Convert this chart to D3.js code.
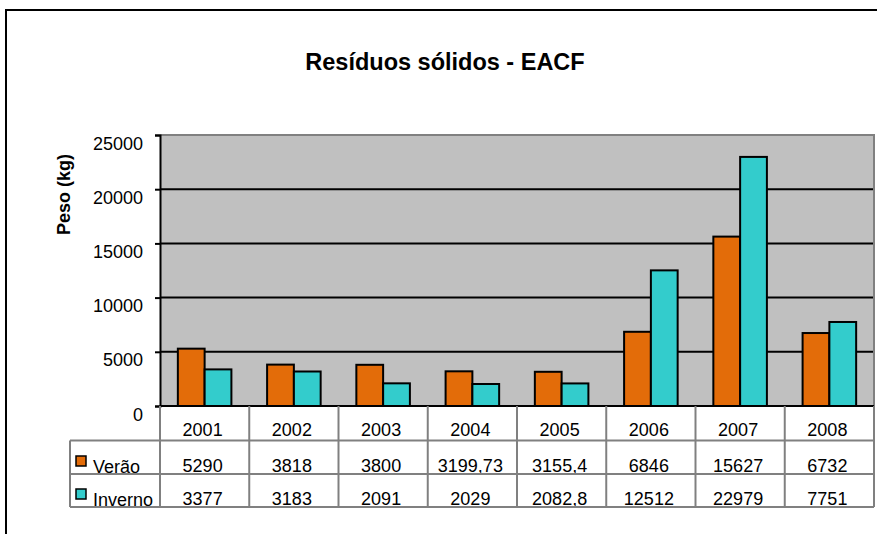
<!DOCTYPE html>
<html>
<head>
<meta charset="utf-8">
<script src="https://cdn.jsdelivr.net/npm/d3@7"></script>
<style>
  body { margin: 0; background: #fff; }
  text { font-family: "Liberation Sans", Arial, sans-serif; fill: #000; }
</style>
</head>
<body>
<div id="chart"></div>
<script>
var years = ["2001", "2002", "2003", "2004", "2005", "2006", "2007", "2008"];
var verao = [5290, 3818, 3800, 3199.73, 3155.4, 6846, 15627, 6732];
var inverno = [3377, 3183, 2091, 2029, 2082.8, 12512, 22979, 7751];
var seriesNames = ["Verão", "Inverno"];
var seriesColors = ["#E36C09", "#33CCCC"];
var yTicks = [0, 5000, 10000, 15000, 20000, 25000];

var width = 877, height = 534;
var plot = {left: 160, right: 874, top: 135, bottom: 406};
var rows = [406, 440.5, 474, 507];

var svg = d3.select("#chart").append("svg")
  .attr("width", width)
  .attr("height", height);

// outer chart border (runs past the right and bottom edges)
svg.append("rect")
  .attr("x", 6).attr("y", 10)
  .attr("width", 900).attr("height", 600)
  .attr("fill", "#fff")
  .attr("stroke", "#000")
  .attr("stroke-width", 2);

svg.append("text")
  .attr("x", 445).attr("y", 70)
  .attr("text-anchor", "middle")
  .style("font-size", "23.5px")
  .style("font-weight", "bold")
  .text("Resíduos sólidos - EACF");

var x = d3.scaleBand().domain(years).range([plot.left, plot.right]);
var y = d3.scaleLinear().domain([0, 25000]).range([plot.bottom, plot.top]);
var barW = x.bandwidth() * 0.3;

svg.append("rect")
  .attr("x", plot.left).attr("y", plot.top)
  .attr("width", plot.right - plot.left).attr("height", plot.bottom - plot.top)
  .attr("fill", "#C0C0C0");

// gridlines
svg.append("g").selectAll("line")
  .data(yTicks.slice(1, -1))
  .enter().append("line")
  .attr("x1", plot.left).attr("x2", plot.right)
  .attr("y1", function(d) { return y(d); })
  .attr("y2", function(d) { return y(d); })
  .attr("stroke", "#000")
  .attr("stroke-width", 2);

// plot frame top/right
svg.append("path")
  .attr("d", "M" + plot.left + "," + plot.top + "H" + plot.right + "V" + plot.bottom)
  .attr("fill", "none")
  .attr("stroke", "#808080")
  .attr("stroke-width", 2);

var data = [verao, inverno];
data.forEach(function(vals, s) {
  svg.append("g").selectAll("rect")
    .data(vals)
    .enter().append("rect")
    .attr("x", function(d, i) { return x(years[i]) + x.bandwidth() / 2 - barW + s * barW; })
    .attr("y", function(d) { return y(d); })
    .attr("width", barW)
    .attr("height", function(d) { return y(0) - y(d); })
    .attr("fill", seriesColors[s])
    .attr("stroke", "#000")
    .attr("stroke-width", 2);
});

// y axis
var yAxis = svg.append("g")
  .attr("transform", "translate(" + plot.left + ",0)")
  .call(d3.axisLeft(y).tickValues(yTicks).tickSize(5).tickPadding(12).tickFormat(d3.format("d")));
yAxis.select(".domain").attr("stroke", "#000").attr("stroke-width", 2);
yAxis.selectAll(".tick line").attr("stroke", "#000").attr("stroke-width", 2);
yAxis.selectAll(".tick text")
  .attr("dy", "14px")
  .style("font-size", "18px")
  .style("font-family", "'Liberation Sans', Arial, sans-serif");

svg.append("line")
  .attr("x1", plot.left).attr("x2", plot.right)
  .attr("y1", plot.bottom).attr("y2", plot.bottom)
  .attr("stroke", "#000").attr("stroke-width", 2);

svg.append("text")
  .attr("transform", "translate(70," + 194.5 + ") rotate(-90)")
  .attr("text-anchor", "middle")
  .style("font-size", "18px")
  .style("font-weight", "bold")
  .text("Peso (kg)");

// data table
var fmt = function(v) { return String(v).replace(".", ","); };
svg.append("defs").append("clipPath").attr("id", "tclip")
  .append("rect").attr("x", 0).attr("y", plot.bottom).attr("width", width).attr("height", rows[3] - plot.bottom);

var table = svg.append("g").attr("clip-path", "url(#tclip)");

table.selectAll("text.year")
  .data(years)
  .enter().append("text")
  .attr("class", "year")
  .attr("x", function(d) { return x(d) + x.bandwidth() / 2 - 2; })
  .attr("y", 436)
  .attr("text-anchor", "middle")
  .style("font-size", "18px")
  .text(function(d) { return d; });

var rowBase = [472, 505];
data.forEach(function(vals, s) {
  table.append("g").selectAll("text")
    .data(vals)
    .enter().append("text")
    .attr("x", function(d, i) { return x(years[i]) + x.bandwidth() / 2 - 2; })
    .attr("y", rowBase[s])
    .attr("text-anchor", "middle")
    .style("font-size", "18px")
    .text(function(d) { return fmt(d); });

  table.append("rect")
    .attr("x", 76).attr("y", rowBase[s] - 16)
    .attr("width", 10).attr("height", 10)
    .attr("fill", seriesColors[s])
    .attr("stroke", "#000")
    .attr("stroke-width", 1.5);

  table.append("text")
    .attr("x", 93).attr("y", rowBase[s] + 1)
    .style("font-size", "18px")
    .text(seriesNames[s]);
});

// table grid
var grid = svg.append("g").attr("stroke", "#808080").attr("stroke-width", 2);
[rows[1], rows[2], rows[3]].forEach(function(r) {
  grid.append("line").attr("x1", 70).attr("x2", plot.right).attr("y1", r).attr("y2", r);
});
grid.append("line").attr("x1", 70).attr("x2", 70).attr("y1", rows[1]).attr("y2", rows[3]);
years.forEach(function(d) {
  grid.append("line").attr("x1", x(d)).attr("x2", x(d)).attr("y1", plot.bottom).attr("y2", rows[3]);
});
grid.append("line").attr("x1", plot.right).attr("x2", plot.right).attr("y1", plot.bottom).attr("y2", rows[3]);
</script>
</body>
</html>
